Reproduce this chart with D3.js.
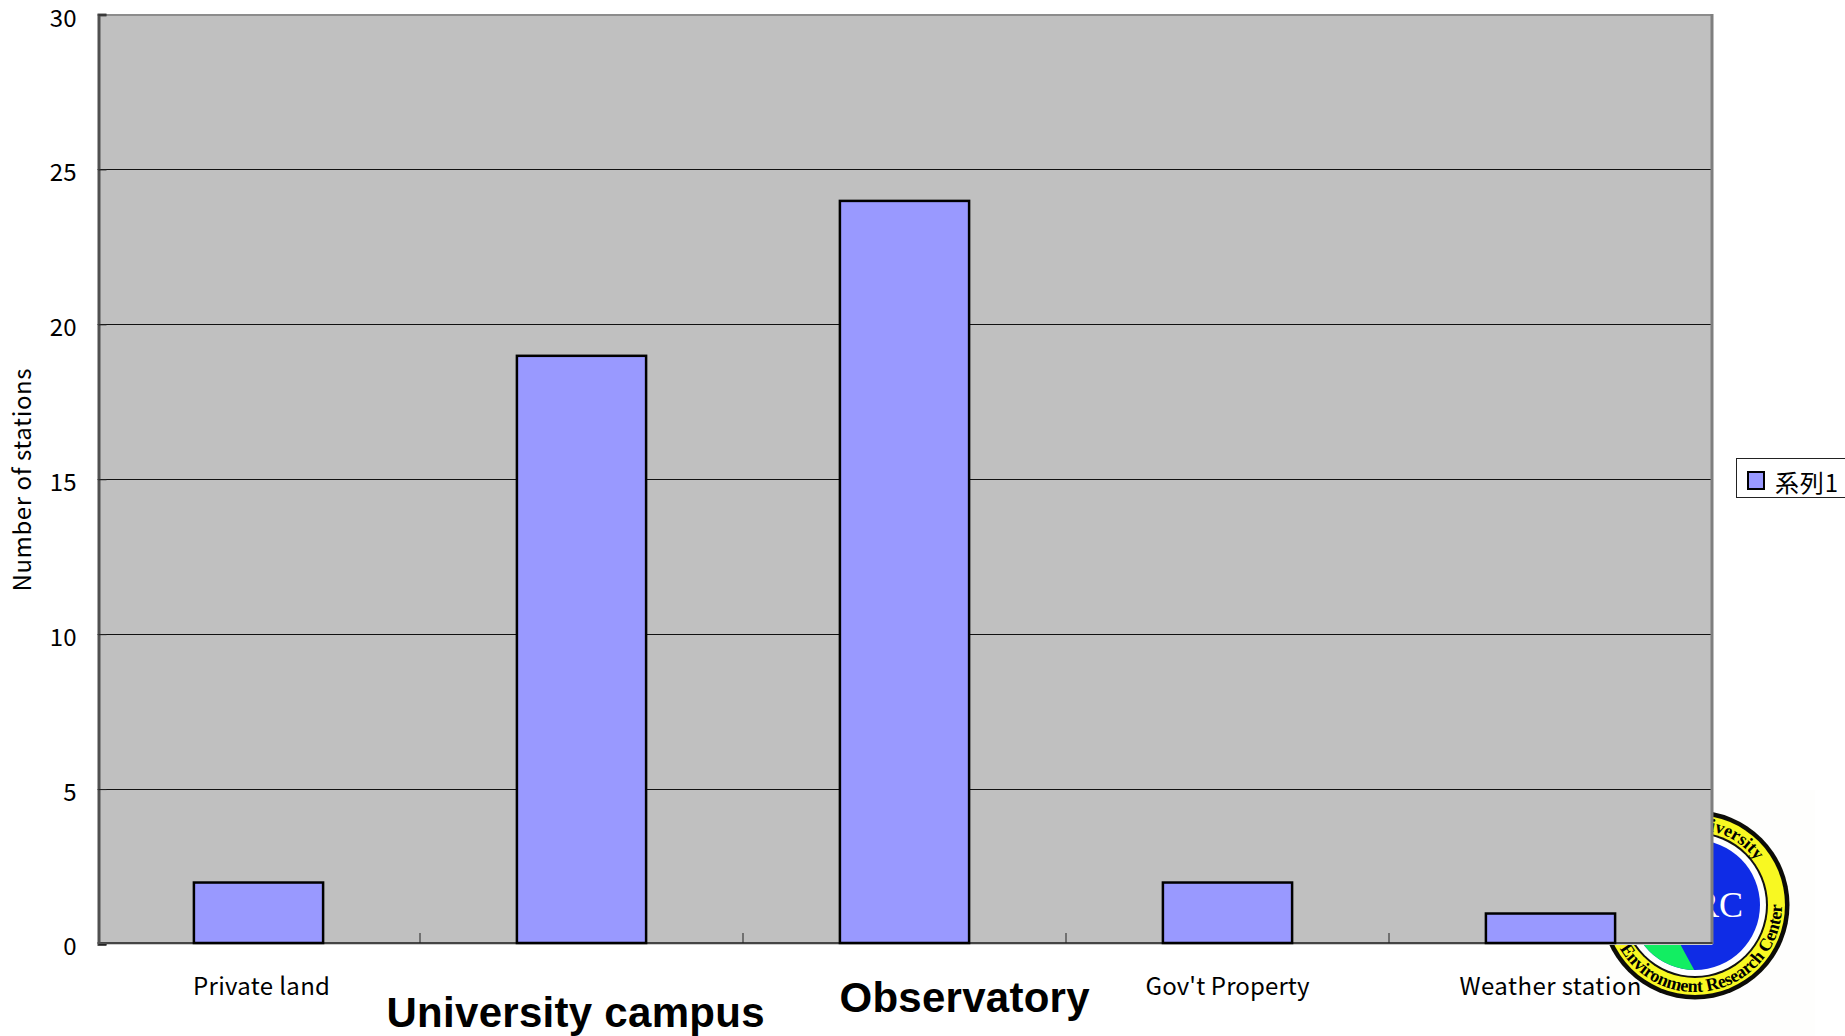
<!DOCTYPE html>
<html>
<head>
<meta charset="utf-8">
<script src="https://cdn.jsdelivr.net/npm/d3@7"></script>
<style>
html,body{margin:0;padding:0;background:#fff;overflow:hidden}
svg{display:block}
text{fill:#000}
.gothic{font-family:"Noto Sans CJK JP","Noto Sans",sans-serif;font-size:24px}
.heavy{font-family:"Liberation Sans",Arial,sans-serif;font-weight:700;font-size:42px}
.crest{font-family:"Liberation Serif",serif;font-weight:700;font-size:18px}
</style>
</head>
<body>
<script>
// Number of monitoring stations by type of site
const categories = ["Private land", "University campus", "Observatory", "Gov't Property", "Weather station"];
const stationCounts = [2, 19, 24, 2, 1];
const yTicks = [0, 5, 10, 15, 20, 25, 30];
const seriesName = "系列1";
const yTitle = "Number of stations";

const width = 1845, height = 1036;
const plot = {left: 97.5, right: 1712.5, top: 14.5, bottom: 944};

const svg = d3.select("body").append("svg").attr("width", width).attr("height", height);

const x = d3.scaleBand().domain(categories).range([plot.left, plot.right]);
const y = d3.scaleLinear().domain([0, 30]).range([plot.bottom, plot.top]);

// Research-centre crest, sitting behind the lower right corner of the plot
function drawCrest() {
  const cx = 1695, cy = 905;
  const g = svg.append("g");
  g.append("rect").attr("x", 1590).attr("y", 790).attr("width", 225).attr("height", 246).attr("fill", "#fefefd");
  g.append("circle").attr("cx", cx).attr("cy", cy).attr("r", 94.5).attr("fill", "#0c0c08");
  g.append("circle").attr("cx", cx).attr("cy", cy).attr("r", 90).attr("fill", "#f8f822");
  g.append("circle").attr("cx", cx).attr("cy", cy).attr("r", 73).attr("fill", "#111");
  g.append("circle").attr("cx", cx).attr("cy", cy).attr("r", 71).attr("fill", "#fff");
  g.append("circle").attr("cx", cx).attr("cy", cy).attr("r", 65).attr("fill", "#0f2ce6");
  svg.append("clipPath").attr("id", "crest-disc")
    .append("circle").attr("cx", cx).attr("cy", cy).attr("r", 65);
  g.append("path").attr("clip-path", "url(#crest-disc)")
    .attr("d", `M1600 975 L1697 975 Q1686 955 1678 940 L1650 900 L1600 900 Z`)
    .attr("fill", "#12ee62");
  g.append("text").attr("x", 1743).attr("y", 917).attr("text-anchor", "end")
    .attr("font-family", "Liberation Serif, serif").attr("font-size", 36).style("fill", "#fff").text("ERC");

  const arc = (r, a0, a1, sweep) => {
    const pt = a => [cx + r * Math.cos(a * Math.PI / 180), cy + r * Math.sin(a * Math.PI / 180)];
    const [x0, y0] = pt(a0), [x1, y1] = pt(a1);
    return `M${x0} ${y0} A${r} ${r} 0 ${Math.abs(a1 - a0) > 180 ? 1 : 0} ${sweep} ${x1} ${y1}`;
  };
  g.append("path").attr("id", "crest-top").attr("fill", "none").attr("d", arc(75.5, -140, -36, 1));
  g.append("path").attr("id", "crest-bottom").attr("fill", "none").attr("d", arc(87, 150, -2, 0));
  g.append("text").attr("class", "crest").attr("text-anchor", "end")
    .append("textPath").attr("href", "#crest-top").attr("startOffset", "100%").text("University");
  g.append("text").attr("class", "crest").attr("textLength", 228).attr("lengthAdjust", "spacing")
    .append("textPath").attr("href", "#crest-bottom").text("Environment Research Center");
}
drawCrest();

// Plot area
svg.append("rect")
  .attr("x", plot.left + 1).attr("y", plot.top)
  .attr("width", plot.right - plot.left - 1).attr("height", plot.bottom - plot.top)
  .attr("fill", "#c0c0c0");

// Horizontal gridlines
svg.append("g").selectAll("line")
  .data(yTicks.filter(d => d > 0 && d < 30))
  .join("line")
  .attr("x1", plot.left).attr("x2", plot.right)
  .attr("y1", d => Math.round(y(d)) + 0.5).attr("y2", d => Math.round(y(d)) + 0.5)
  .attr("stroke", "#111").attr("stroke-width", 1);

// Plot frame
svg.append("line").attr("x1", plot.left).attr("x2", plot.right).attr("y1", 15).attr("y2", 15)
  .attr("stroke", "#8c8c8c").attr("stroke-width", 2);
svg.append("line").attr("x1", 1712).attr("x2", 1712).attr("y1", 14).attr("y2", 944)
  .attr("stroke", "#7f7f7f").attr("stroke-width", 3);

// Category axis: boundary ticks between the bands
const xAxisLine = svg.append("g");
xAxisLine.append("line").attr("x1", plot.left).attr("x2", plot.right).attr("y1", 943).attr("y2", 943)
  .attr("stroke", "#444").attr("stroke-width", 2);
xAxisLine.append("line").attr("x1", plot.left).attr("x2", plot.right).attr("y1", 944.5).attr("y2", 944.5)
  .attr("stroke", "#ccc").attr("stroke-width", 1);
xAxisLine.selectAll(".boundary")
  .data(categories.slice(1))
  .join("line")
  .attr("class", "boundary")
  .attr("x1", d => x(d) - 0.5).attr("x2", d => x(d) - 0.5)
  .attr("y1", 933).attr("y2", 943)
  .attr("stroke", "#222").attr("stroke-width", 1);

// Bars, with the baseline edge resting on the category axis
const barWidth = x.bandwidth() * 0.4;
svg.append("g").selectAll("rect")
  .data(categories)
  .join("rect")
  .attr("x", d => x(d) + (x.bandwidth() - barWidth) / 2 - 0.5)
  .attr("y", (d, i) => y(stationCounts[i]) + 0.5)
  .attr("width", barWidth)
  .attr("height", (d, i) => y(0) - 1.5 - y(stationCounts[i]))
  .attr("fill", "#9999ff")
  .attr("stroke", "#000")
  .attr("stroke-width", 2.5);

// Value axis with ticks pointing into the plot
const yAxis = d3.axisLeft(y).tickValues(yTicks).tickSize(-8).tickPadding(22);
const yG = svg.append("g").attr("transform", `translate(${plot.left + 1},0)`).call(yAxis);
yG.select(".domain").attr("stroke", "#505050").attr("stroke-width", 3);
yG.selectAll("line").attr("stroke", "#222");
yG.selectAll("text")
  .attr("class", "gothic")
  .attr("font-family", null)
  .attr("dy", d => d === 0 ? "10px" : "11.5px");
yG.attr("font-size", null).attr("font-family", null);

// Category labels; the two emphasised ones are set larger and placed by hand
const labelStyle = [
  {cls: "gothic", dx: 2.5, base: 994.5, len: 137},
  {cls: "heavy", dx: -6.5, base: 1027, len: 378},
  {cls: "heavy", dx: 59.5, base: 1012, len: 250},
  {cls: "gothic", dx: -0.5, base: 994.5, len: 164},
  {cls: "gothic", dx: -0.5, base: 994.5, len: 182}
];
svg.append("g").selectAll("text")
  .data(categories)
  .join("text")
  .attr("class", (d, i) => labelStyle[i].cls)
  .attr("text-anchor", "middle")
  .attr("x", (d, i) => x(d) + x.bandwidth() / 2 + labelStyle[i].dx)
  .attr("y", (d, i) => labelStyle[i].base)
  .attr("textLength", (d, i) => labelStyle[i].len)
  .text(d => d);

// Value axis title
svg.append("text")
  .attr("class", "gothic")
  .attr("text-anchor", "middle")
  .attr("transform", "translate(30.5,480) rotate(-90)")
  .attr("textLength", 223)
  .text(yTitle);

// Legend, running off the right edge of the page
const legend = svg.append("g");
legend.append("rect").attr("x", 1736.5).attr("y", 458.5).attr("width", 120).attr("height", 39)
  .attr("fill", "#fff").attr("stroke", "#222").attr("stroke-width", 1);
legend.append("rect").attr("x", 1748).attr("y", 472).attr("width", 16).attr("height", 17)
  .attr("fill", "#9999ff").attr("stroke", "#000").attr("stroke-width", 2);
legend.append("text").attr("class", "gothic").attr("x", 1775).attr("y", 491.5)
  .attr("textLength", 63).text(seriesName);
</script>
</body>
</html>
